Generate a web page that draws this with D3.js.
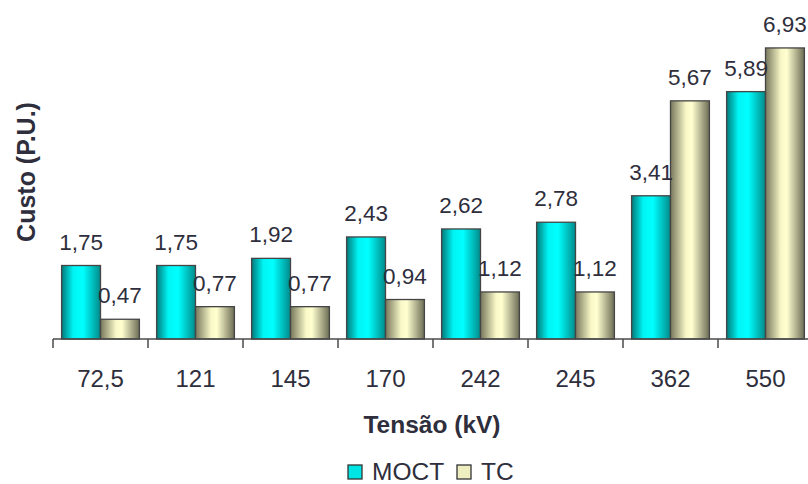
<!DOCTYPE html>
<html>
<head>
<meta charset="utf-8">
<script src="https://cdn.jsdelivr.net/npm/d3@7"></script>
<style>
  html, body { margin: 0; padding: 0; background: #fff; }
  svg { display: block; font-family: "Liberation Sans", Arial, sans-serif; }
</style>
</head>
<body>
<svg id="chart" width="808" height="484"></svg>
<script>
// Voltage classes (kV) and per-unit cost of each technology
const categories = ["72,5", "121", "145", "170", "242", "245", "362", "550"];
const series = ["MOCT", "TC"];
const moct = [1.75, 1.75, 1.92, 2.43, 2.62, 2.78, 3.41, 5.89];
const tc = [0.47, 0.77, 0.77, 0.94, 1.12, 1.12, 5.67, 6.93];
const valueLabels = {
  MOCT: ["1,75", "1,75", "1,92", "2,43", "2,62", "2,78", "3,41", "5,89"],
  TC: ["0,47", "0,77", "0,77", "0,94", "1,12", "1,12", "5,67", "6,93"]
};

const values = { MOCT: moct, TC: tc };
const svg = d3.select("#chart");
const textColor = "#2e2e3c";

// Scales
const x0 = d3.scaleBand().domain(categories).range([53, 813]).paddingInner(0).paddingOuter(0);
const x1 = d3.scaleBand().domain(series).range([8.6, 86.4]).padding(0);
const y = d3.scaleLinear().domain([0, 7]).range([339, 45]);

// Shaded fills for the cylinder-like bars
const defs = svg.append("defs");
const grads = {
  MOCT: [["0%", "#007a7a"], ["30%", "#00f4f4"], ["55%", "#00ffff"], ["100%", "#008a8a"]],
  TC: [["0%", "#77775c"], ["40%", "#f8f8c8"], ["55%", "#ffffd0"], ["100%", "#6c6c55"]]
};
series.forEach(s => {
  const g = defs.append("linearGradient").attr("id", "g-" + s)
    .attr("x1", "0%").attr("x2", "100%").attr("y1", "0%").attr("y2", "0%");
  grads[s].forEach(([o, c]) => g.append("stop").attr("offset", o).attr("stop-color", c));
});

// Bars
const groups = svg.append("g").selectAll("g")
  .data(categories)
  .join("g")
  .attr("transform", d => `translate(${x0(d)},0)`);

groups.selectAll("rect")
  .data((d, i) => series.map(s => ({ s, v: values[s][i] })))
  .join("rect")
  .attr("x", d => x1(d.s))
  .attr("width", x1.bandwidth())
  .attr("y", d => y(d.v))
  .attr("height", d => y(0) - y(d.v))
  .attr("fill", d => `url(#g-${d.s})`)
  .attr("stroke", "#454545")
  .attr("stroke-width", 1.3);

// Value labels
groups.selectAll("text.val")
  .data((d, i) => series.map(s => ({ s, v: values[s][i], t: valueLabels[s][i] })))
  .join("text")
  .attr("class", "val")
  .attr("x", d => x1(d.s) + x1.bandwidth() / 2)
  .attr("y", d => y(d.v) - 16)
  .attr("text-anchor", "middle")
  .attr("font-size", 22.5)
  .attr("fill", textColor)
  .text(d => d.t);

// Category axis: boundary ticks and centered labels
const axis = d3.axisBottom(x0).tickSize(0).tickPadding(0);
const ax = svg.append("g").attr("transform", `translate(0,${y(0)})`).call(axis);
ax.select(".domain").remove();
ax.selectAll("text")
  .attr("y", 48)
  .attr("dy", 0)
  .attr("font-size", 24)
  .attr("font-family", "Liberation Sans, Arial, sans-serif")
  .attr("fill", textColor);

svg.append("line")
  .attr("x1", x0.range()[0]).attr("x2", x0.range()[1])
  .attr("y1", y(0)).attr("y2", y(0))
  .attr("stroke", "#4a4a4a").attr("stroke-width", 1.5);

svg.append("g").selectAll("line")
  .data(categories)
  .join("line")
  .attr("x1", d => x0(d)).attr("x2", d => x0(d))
  .attr("y1", y(0)).attr("y2", y(0) + 9)
  .attr("stroke", "#4a4a4a").attr("stroke-width", 1.5);

// Axis titles
svg.append("text")
  .attr("x", 432).attr("y", 433)
  .attr("text-anchor", "middle")
  .attr("font-size", 24.5).attr("font-weight", "bold")
  .attr("fill", textColor)
  .text("Tensão (kV)");

svg.append("text")
  .attr("transform", "translate(35,172) rotate(-90)")
  .attr("text-anchor", "middle")
  .attr("font-size", 25).attr("font-weight", "bold")
  .attr("fill", textColor)
  .text("Custo (P.U.)");

// Legend
const legendFill = { MOCT: "#00e4e4", TC: "#eeeec0" };
const legendX = { MOCT: 348, TC: 457 };
const lg = svg.append("g").selectAll("g").data(series).join("g")
  .attr("transform", d => `translate(${legendX[d]},465)`);
lg.append("rect")
  .attr("width", 14).attr("height", 14)
  .attr("fill", d => legendFill[d])
  .attr("stroke", "#333").attr("stroke-width", 1.3);
lg.append("text")
  .attr("x", 24).attr("y", 15)
  .attr("font-size", 24.5)
  .attr("fill", textColor)
  .text(d => d);
</script>
</body>
</html>
